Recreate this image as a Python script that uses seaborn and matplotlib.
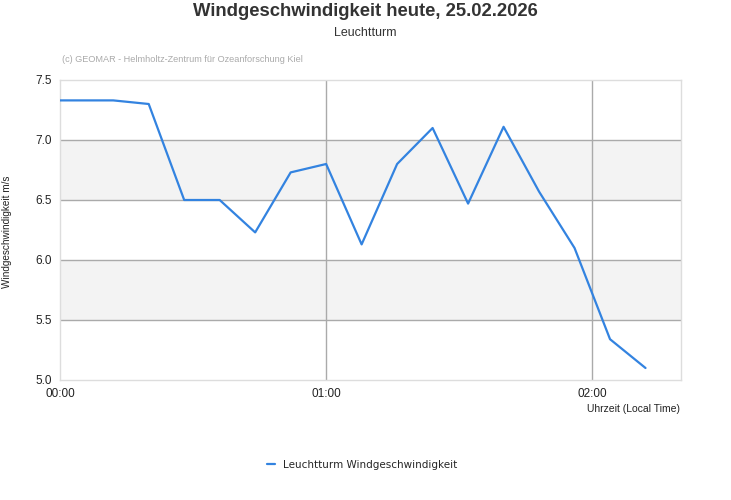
import pandas as pd
import numpy as np
import matplotlib
matplotlib.use('Agg')
import matplotlib.pyplot as plt
import seaborn as sns
from matplotlib.ticker import FuncFormatter

# --- Data ---
times = ['00:00', '00:12', '00:20', '00:28', '00:36', '00:44', '00:52', '01:00',
         '01:08', '01:16', '01:24', '01:32', '01:40', '01:48', '01:56', '02:04', '02:12']
speeds = [7.33, 7.33, 7.30, 6.50, 6.50, 6.23, 6.73, 6.80,
          6.13, 6.80, 7.10, 6.47, 7.11, 6.57, 6.10, 5.34, 5.10]
tick_labels = ['00:00', '01:00', '02:00']

minutes = [int(t[:2]) * 60 + int(t[3:]) for t in times]
data = pd.DataFrame({'Minuten': minutes, 'Wind': speeds})

sns.set_style('white')
plt.rcParams['font.family'] = ['Liberation Sans', 'DejaVu Sans']

fig = plt.figure(figsize=(7.31, 5.0), dpi=100)
ax = fig.add_axes([60 / 731, 120 / 500, 621 / 731, 300 / 500])

# alternating bands and grid
ax.axhspan(6.5, 7.0, color='#f3f3f3', zorder=0, lw=0)
ax.axhspan(5.5, 6.0, color='#f3f3f3', zorder=0, lw=0)
for y in [5.5, 6.0, 6.5, 7.0]:
    ax.axhline(y, color='#aaaaaa', lw=1, zorder=1)
for x in [60, 120]:
    ax.axvline(x, color='#aaaaaa', lw=1, zorder=1)

sns.lineplot(x='Minuten', y='Wind', data=data, ax=ax, color='#3383e0', lw=1.6,
             label='Leuchtturm Windgeschwindigkeit', zorder=3)

ax.set_xlim(0, 140)
ax.set_ylim(5.0, 7.5)
ax.set_xticks([0, 60, 120])
ax.set_xticklabels(tick_labels)
ax.set_yticks([5.0, 5.5, 6.0, 6.5, 7.0, 7.5])
ax.yaxis.set_major_formatter(FuncFormatter(lambda v, p: '%.1f' % v))
ax.tick_params(axis='both', length=0, labelsize=8.5, colors='#222222', pad=6)
ax.set_xlabel('')
ax.set_ylabel('')
for s in ax.spines.values():
    s.set_color('#dddddd')
    s.set_linewidth(1)

fig.text(365 / 731, 1 - 12 / 500, 'Windgeschwindigkeit heute, 25.02.2026', ha='center', va='center',
         fontsize=13.3, fontweight='bold', color='#333333')
fig.text(365 / 731, 1 - 33 / 500, 'Leuchtturm', ha='center', va='center', fontsize=9, color='#333333')
fig.text(62 / 731, 1 - 60 / 500, '(c) GEOMAR - Helmholtz-Zentrum für Ozeanforschung Kiel',
         ha='left', va='center', fontsize=6.6, color='#aaaaaa')
fig.text(7 / 731, 1 - 232 / 500, 'Windgeschwindigkeit m/s', ha='center', va='center',
         rotation=90, fontsize=7.2, color='#222222')
fig.text(680 / 731, 1 - 409 / 500, 'Uhrzeit (Local Time)', ha='right', va='center',
         fontsize=7.5, color='#222222')

ax.legend(loc='center', bbox_to_anchor=(362 / 731, 1 - 465 / 500), bbox_transform=fig.transFigure,
          frameon=False, handlelength=0.8, handletextpad=0.8,
          prop={'family': 'DejaVu Sans', 'size': 7.5})

plt.savefig('out.png', dpi=100)
